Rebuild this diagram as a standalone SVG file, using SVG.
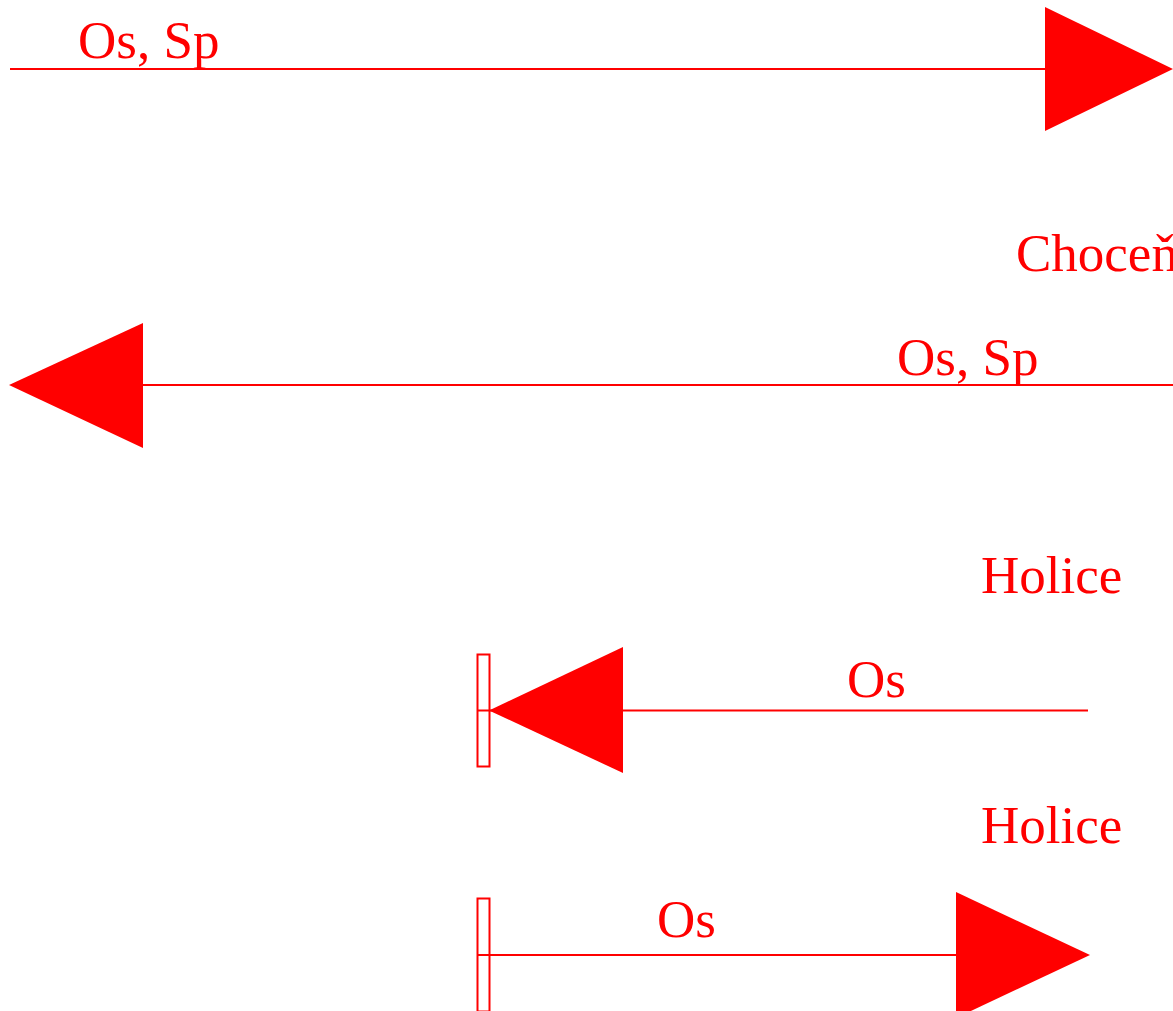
<svg xmlns="http://www.w3.org/2000/svg" width="1173" height="1011" viewBox="0 0 1173 1011">
<style>
.t{font-family:"Liberation Serif","Times New Roman",serif;font-size:53px;fill:#ff0000}
.ln{stroke:#ff0000;stroke-width:2;fill:none}
.hd{fill:#ff0000;stroke:none}
.bk{fill:#ffffff;stroke:#ff0000;stroke-width:2}
</style>
<rect width="1173" height="1011" fill="#ffffff"/>
<g id="connectors">
<g id="c1"><line class="ln" x1="10" y1="69" x2="1046" y2="69"/><polygon class="hd" points="1045,7 1173,69 1045,131"/></g>
<g id="c2"><line class="ln" x1="142" y1="385" x2="1173" y2="385"/><polygon class="hd" points="143,323 9,385 143,448"/></g>
<g id="c3"><rect class="bk" x="477.5" y="654.5" width="12" height="112"/><line class="ln" x1="477" y1="710.5" x2="1088" y2="710.5"/><polygon class="hd" points="623,647 489,710.5 623,773"/></g>
<g id="c4"><rect class="bk" x="477.5" y="898.5" width="12" height="113"/><line class="ln" x1="477" y1="955" x2="957" y2="955"/><polygon class="hd" points="956,892 1090,955 956,1018"/></g>
</g>
<g id="labels">
<text class="t" x="78" y="58">Os, Sp</text>
<text class="t" x="1016" y="271">Choceň</text>
<text class="t" x="897" y="375">Os, Sp</text>
<text class="t" x="981" y="593">Holice</text>
<text class="t" x="847" y="697">Os</text>
<text class="t" x="981" y="843">Holice</text>
<text class="t" x="657" y="937">Os</text>
</g>
</svg>
